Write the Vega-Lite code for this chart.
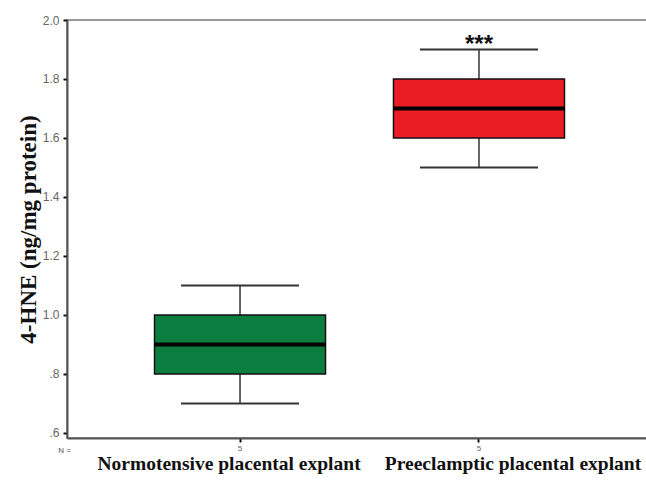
{
  "$schema": "https://vega.github.io/schema/vega-lite/v6.json",
  "width": 585,
  "height": 418,
  "autosize": {"type": "none"},
  "padding": {"left": 67, "top": 20, "right": 0, "bottom": 42},
  "background": "white",
  "config": {"view": {"stroke": "#777", "strokeWidth": 1.5}},
  "data": {
    "values": [
      {"group": "Normotensive placental explant", "n": "5", "min": 0.7, "q1": 0.8, "median": 0.9, "q3": 1.0, "max": 1.1, "sig": ""},
      {"group": "Preeclamptic placental explant", "n": "5", "min": 1.5, "q1": 1.6, "median": 1.7, "q3": 1.8, "max": 1.9, "sig": "***"}
    ]
  },
  "resolve": {"axis": {"x": "independent"}},
  "layer": [
    {
      "mark": {"type": "rule", "color": "#333", "strokeWidth": 1.5},
      "encoding": {
        "x": {
          "field": "group", "type": "nominal",
          "scale": {"paddingOuter": 0.224, "paddingInner": 0},
          "axis": {
            "orient": "bottom", "labelExpr": "'5'", "labelAngle": 0,
            "labelFont": "Liberation Sans", "labelFontSize": 8, "labelColor": "#666", "labelPadding": 2,
            "domain": true, "domainColor": "#555", "domainWidth": 2,
            "ticks": true, "tickColor": "#111", "tickSize": 4, "tickWidth": 2,
            "title": "N =", "titleX": -3, "titleY": 12, "titleAlign": "center", "titleBaseline": "middle",
            "titleFont": "Liberation Sans", "titleFontSize": 8, "titleFontWeight": "normal", "titleColor": "#555"
          }
        },
        "y": {
          "field": "min", "type": "quantitative",
          "scale": {"domain": [0.583, 2.0], "nice": false, "zero": false},
          "axis": {
            "values": [0.6, 0.8, 1.0, 1.2, 1.4, 1.6, 1.8, 2.0],
            "labelExpr": "datum.value < 1 ? replace(format(datum.value, '.1f'), '0.', '.') : format(datum.value, '.1f')",
            "labelFont": "Liberation Sans", "labelFontSize": 12, "labelColor": "#666", "labelPadding": 4,
            "domainColor": "#555", "domainWidth": 2,
            "tickColor": "#111", "tickSize": 4, "tickWidth": 2,
            "grid": false,
            "title": "4-HNE (ng/mg protein)", "titleFont": "Liberation Serif", "titleFontSize": 23,
            "titleFontWeight": "bold", "titleColor": "#111", "titlePadding": 2
          }
        },
        "y2": {"field": "max"}
      }
    },
    {
      "mark": {"type": "bar", "size": 171, "stroke": "#111", "strokeWidth": 1.5},
      "encoding": {
        "x": {"field": "group", "type": "nominal", "axis": null},
        "y": {"field": "q1", "type": "quantitative"},
        "y2": {"field": "q3"},
        "color": {
          "field": "group", "type": "nominal",
          "scale": {"range": ["#0b7d3e", "#ec1c24"]},
          "legend": null
        }
      }
    },
    {
      "mark": {"type": "tick", "size": 118, "thickness": 2, "color": "#333", "opacity": 1},
      "encoding": {
        "x": {"field": "group", "type": "nominal", "axis": null},
        "y": {"field": "min", "type": "quantitative"}
      }
    },
    {
      "mark": {"type": "tick", "size": 118, "thickness": 2, "color": "#333", "opacity": 1},
      "encoding": {
        "x": {"field": "group", "type": "nominal", "axis": null},
        "y": {"field": "max", "type": "quantitative"}
      }
    },
    {
      "mark": {"type": "tick", "size": 171, "thickness": 4, "color": "#000", "opacity": 1},
      "encoding": {
        "x": {
          "field": "group", "type": "nominal",
          "axis": {
            "orient": "bottom", "offset": 16, "labelAngle": 0, "domain": false, "ticks": false,
            "labelFont": "Liberation Serif", "labelFontSize": 19.5, "labelFontWeight": "bold",
            "labelColor": "#111", "labelPadding": 0, "labelBaseline": "top", "labelLimit": 0,
            "labelOffset": {"condition": {"test": "datum.value == 'Preeclamptic placental explant'", "value": 34}, "value": -11},
            "title": null
          }
        },
        "y": {"field": "median", "type": "quantitative"}
      }
    },
    {
      "mark": {"type": "text", "baseline": "middle", "dy": -4, "fontSize": 24, "fontWeight": "bold", "font": "Liberation Sans", "color": "#111"},
      "encoding": {
        "x": {"field": "group", "type": "nominal", "axis": null},
        "y": {"field": "max", "type": "quantitative"},
        "text": {"field": "sig"}
      }
    }
  ]
}
